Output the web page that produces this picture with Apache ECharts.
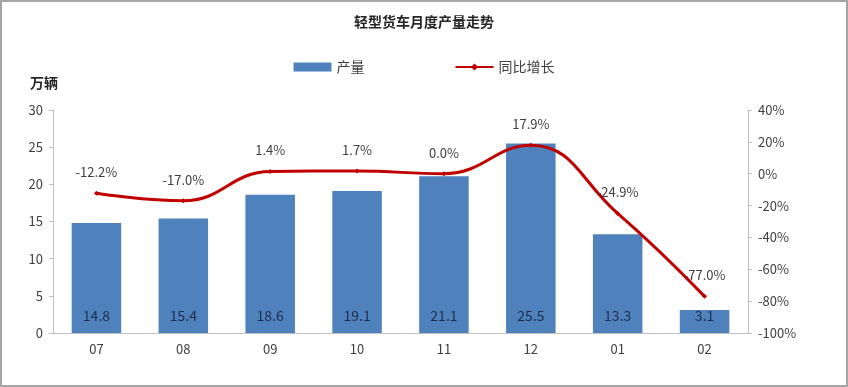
<!DOCTYPE html>
<html><head><meta charset="utf-8">
<script src="https://cdn.jsdelivr.net/npm/echarts@6/dist/echarts.min.js"></script>
<style>
html,body{margin:0;padding:0;background:#fff;}
#c{width:848px;height:387px;box-sizing:border-box;border:2px solid #a6a6a6;}
</style></head><body>
<div id="c"></div>
<script>
const categories = ['07','08','09','10','11','12','01','02'];
const production = [14.8, 15.4, 18.6, 19.1, 21.1, 25.5, 13.3, 3.1];
const yoyGrowth = [-12.2, -17.0, 1.4, 1.7, 0.0, 17.9, -24.9, -77.0];
const leftTicks = [0, 30, 5];
const rightTicks = [-100, 40, 20];

const font = '"Noto Sans CJK SC", "Microsoft YaHei", sans-serif';
const chart = echarts.init(document.getElementById('c'), null, {renderer:'canvas'});
chart.setOption({
  animation: false,
  textStyle: {fontFamily: font},
  title: {text: '轻型货车月度产量走势', left: 'center', top: 8,
    textStyle: {fontFamily: font, fontSize: 14, fontWeight: 'bold', color: '#262626'}},
  legend: {top: 53, left: 'center', itemGap: 90, itemWidth: 38, itemHeight: 9,
    textStyle: {fontFamily: font, fontSize: 14, color: '#404040'},
    data: [{name: '产量', icon: 'rect'}, {name: '同比增长'}]},
  grid: {left: 51, right: 98, top: 108, bottom: 52},
  xAxis: {type: 'category', data: categories,
    axisLine: {lineStyle: {color: '#bfbfbf'}}, axisTick: {show: false},
    axisLabel: {color: '#404040', fontSize: 13, margin: 10, fontFamily: font}},
  yAxis: [
    {type: 'value', min: leftTicks[0], max: leftTicks[1], interval: leftTicks[2],
      name: '万辆', nameLocation: 'end', nameGap: 20,
      nameTextStyle: {fontFamily: font, fontWeight: 'bold', fontSize: 14, color: '#262626', align: 'center', padding: [0, 0, 0, -18]},
      axisLine: {show: true, lineStyle: {color: '#bfbfbf'}},
      axisTick: {show: true, length: 4, lineStyle: {color: '#bfbfbf'}},
      splitLine: {show: false},
      axisLabel: {color: '#404040', fontSize: 13, margin: 10, fontFamily: font}},
    {type: 'value', min: rightTicks[0], max: rightTicks[1], interval: rightTicks[2],
      position: 'right',
      axisLine: {show: true, lineStyle: {color: '#bfbfbf'}},
      axisTick: {show: true, length: 4, lineStyle: {color: '#bfbfbf'}},
      splitLine: {show: false},
      axisLabel: {color: '#404040', fontSize: 13, margin: 10, fontFamily: font, formatter: '{value}%'}}
  ],
  series: [
    {name: '产量', type: 'bar', data: production, barWidth: '57%',
      itemStyle: {color: '#4f81bd'},
      label: {show: true, position: 'insideBottom', distance: 10, color: '#1f2d4d', fontSize: 14, fontFamily: font,
        formatter: p => p.value.toFixed(1)}},
    {name: '同比增长', type: 'line', yAxisIndex: 1, data: yoyGrowth, smooth: 0.45,
      symbol: 'diamond', symbolSize: 5,
      lineStyle: {color: '#c00000', width: 3},
      itemStyle: {color: '#c00000'},
      label: {show: true, position: 'top', distance: 12, color: '#404040', fontSize: 13, fontFamily: font,
        formatter: p => p.value.toFixed(1) + '%'}}
  ]
});
</script></body></html>
